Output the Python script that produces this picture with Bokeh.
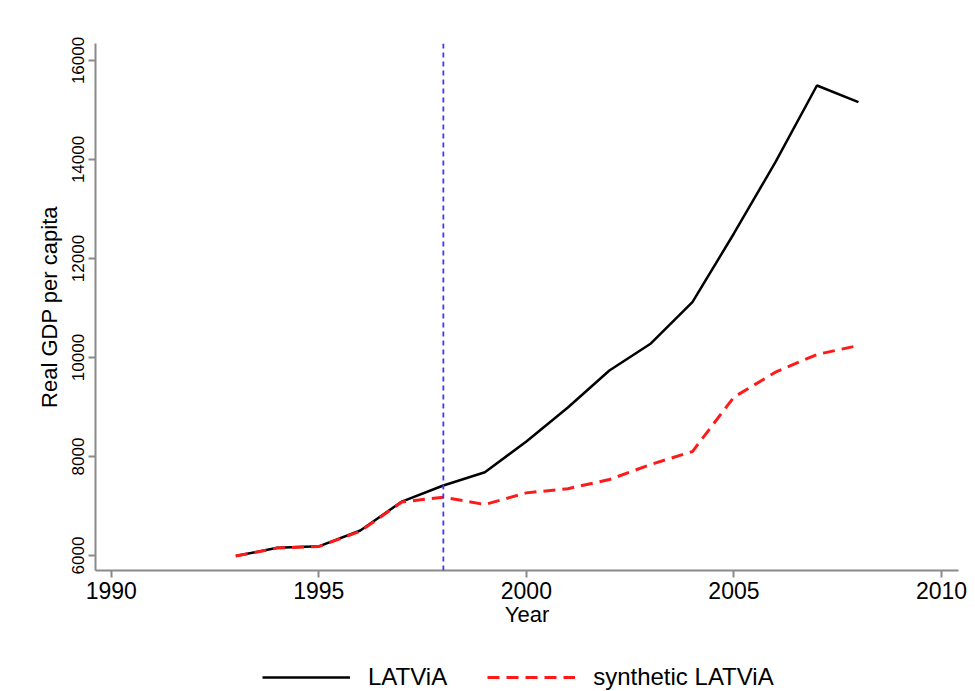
from bokeh.plotting import figure
from bokeh.layouts import column
from bokeh.models import Range1d, FixedTicker, Span, Legend, LegendItem
from bokeh.embed import file_html
from bokeh.resources import INLINE

# ---- data ----
years = [1993, 1994, 1995, 1996, 1997, 1998, 1999, 2000,
         2001, 2002, 2003, 2004, 2005, 2006, 2007, 2008]
latvia = [5990, 6155, 6185, 6505, 7090, 7414, 7683, 8303,
          8990, 9737, 10283, 11117, 12505, 13946, 15495, 15158]
synthetic_latvia = [5990, 6150, 6180, 6490, 7080, 7178, 7030, 7265,
                    7350, 7535, 7840, 8100, 9200, 9703, 10061, 10242]
treatment_year = 1998
x_ticks = [1990, 1995, 2000, 2005, 2010]
y_ticks = [6000, 8000, 10000, 12000, 14000, 16000]
series_labels = ["LATViA", "synthetic LATViA"]
x_title = "Year"
y_title = "Real GDP per capita"

FONT = "Liberation Sans"
AXIS_GRAY = "#8a8a8a"
BLACK_STYLE = dict(line_color="black", line_width=2.5)
RED_STYLE = dict(line_color="#ff1a1a", line_width=3, line_dash="12 7")

p = figure(frame_width=863, frame_height=527, output_backend="svg",
           toolbar_location=None,
           x_range=Range1d(1989.62, 2010.41), y_range=Range1d(5697, 16343),
           min_border_left=95, min_border_right=17, min_border_top=43,
           min_border_bottom=71)
p.outline_line_color = None
p.xgrid.visible = False
p.ygrid.visible = False
p.background_fill_color = "white"
p.border_fill_color = "white"

r1 = p.line(years, latvia, **BLACK_STYLE)
r2 = p.line(years, synthetic_latvia, **RED_STYLE)

span = Span(location=treatment_year, dimension="height", line_color="#3a3aff",
            line_width=1.8, line_dash="5 4")
p.add_layout(span)

# axes styling
for ax in (p.xaxis[0], p.yaxis[0]):
    ax.axis_line_color = AXIS_GRAY
    ax.axis_line_width = 2
    ax.major_tick_line_color = AXIS_GRAY
    ax.major_tick_line_width = 2
    ax.major_tick_out = 7
    ax.major_tick_in = 0
    ax.minor_tick_line_color = None
    ax.major_label_text_font = FONT
    ax.axis_label_text_font = FONT
    ax.major_label_text_color = "black"
    ax.axis_label_text_color = "black"
    ax.axis_label_text_font_style = "normal"

p.xaxis.ticker = FixedTicker(ticks=x_ticks)
p.yaxis.ticker = FixedTicker(ticks=y_ticks)
p.xaxis.major_label_text_font_size = "23px"
p.yaxis.major_label_text_font_size = "17px"
p.xaxis.major_label_standoff = 4
p.yaxis.major_label_standoff = 4
p.yaxis.major_label_orientation = "vertical"
p.xaxis.axis_label = x_title
p.yaxis.axis_label = y_title
p.xaxis.axis_label_text_font_size = "22px"
p.yaxis.axis_label_text_font_size = "22px"
p.xaxis.axis_label_standoff = 0
p.yaxis.axis_label_standoff = 8

# ---- legend strip below the chart (series drawn off-range, only keys show) ----
lg = figure(width=975, height=50, output_backend="svg", toolbar_location=None,
            min_border=0, x_axis_type=None, y_axis_type=None,
            x_range=Range1d(0, 1), y_range=Range1d(0, 1))
lg.outline_line_color = None
lg.xgrid.visible = False
lg.ygrid.visible = False
k1 = lg.line(years, latvia, **BLACK_STYLE)
k2 = lg.line(years, synthetic_latvia, **RED_STYLE)
legend = Legend(items=[LegendItem(label=series_labels[0], renderers=[k1]),
                       LegendItem(label=series_labels[1], renderers=[k2])],
                orientation="horizontal", location=(167, 0),
                border_line_color=None, background_fill_alpha=0,
                glyph_width=88, glyph_height=20, label_standoff=18,
                spacing=40, padding=0, margin=0,
                label_text_font=FONT, label_text_font_size="24px",
                label_text_color="black")
lg.add_layout(legend)

layout = column(p, lg, spacing=0)
open("out.html", "w").write(file_html(layout, INLINE))
